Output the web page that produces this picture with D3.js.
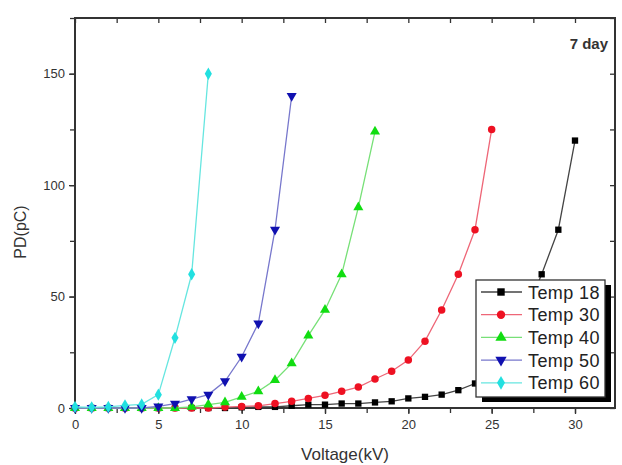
<!DOCTYPE html>
<html>
<head>
<meta charset="utf-8">
<script src="https://cdn.jsdelivr.net/npm/d3@7"></script>
<style>
	body { margin: 0; background: #fff; }
	text { font-family: "Liberation Sans", Arial, sans-serif; }
</style>
</head>
<body>
<svg id="chart"></svg>
<script>
// values, PD (pC) at each voltage step of 1 kV starting at 0
const seriesNames = ["Temp 18", "Temp 30", "Temp 40", "Temp 50", "Temp 60"];
const temp18 = [0, 0, 0, 0, 0, 0, 0, 0, 0, 0, 0.3, 0.5, 0.5, 1, 1.5, 1.5, 2, 2, 2.5, 3, 4.3, 5, 6, 8, 11, 17, 27, 42, 60, 80, 120];
const temp30 = [0, 0, 0, 0, 0, 0, 0, 0, 0, 0.4, 0.7, 1, 2, 3, 4.3, 5.7, 7.5, 9.4, 13, 16.5, 21.5, 30, 44, 60, 80, 125];
const temp40 = [0, 0, 0, 0, 0, 0, 0, 0.5, 1.5, 2.5, 5, 7.5, 12.5, 20, 32.5, 44, 60, 90, 124];
const temp50 = [0, 0, 0, 0, 0, 0.7, 2, 4, 6, 12, 23, 38, 80, 140];
const temp60 = [0.5, 0.3, 0.5, 1.2, 1.6, 6, 31.5, 60, 150];
const xTicks = [0, 5, 10, 15, 20, 25, 30];
const yTicks = [0, 50, 100, 150];

const markerColors = ["#000000", "#ee1122", "#11dd11", "#1010b0", "#22e0e0"];
const lineColors = ["#444444", "#ee6677", "#77e077", "#7777cc", "#66e6e0"];
const markerTypes = [d3.symbolSquare, d3.symbolCircle, d3.symbolTriangle, d3.symbolTriangle, d3.symbolDiamond];
const markerRotate = [0, 0, 0, 180, 0];

let allSeries = [temp18, temp30, temp40, temp50, temp60].map((vals, s) => ({
	name: seriesNames[s],
	index: s,
	points: vals.map((v, i) => ({x: i, y: v}))
}));

let width = 622, height = 465;
let margin = {left: 75, top: 18, right: 7, bottom: 57};
let plotW = width - margin.left - margin.right;
let plotH = height - margin.top - margin.bottom;

let svg = d3.select("#chart")
	.attr("width", width)
	.attr("height", height);

let xScale = d3.scaleLinear().domain([0, 32.4]).range([0, plotW]);
let yScale = d3.scaleLinear().domain([0, 175]).range([plotH, 0]);

let g = svg.append("g")
	.attr("transform", "translate(" + margin.left + "," + margin.top + ")");

// axes: bottom/left outward with labels, top/right mirrored inward
let minorX = d3.range(0, 32.5, 2.5);
let minorY = d3.range(0, 176, 25);

let axisColor = "#333";
let styleAxis = sel => {
	sel.select(".domain").remove();
	sel.selectAll("line").attr("stroke", axisColor).attr("stroke-width", 1.3);
	sel.selectAll("text").attr("fill", "#333").style("font-size", "13px");
};

g.append("g")
	.attr("transform", "translate(0," + plotH + ")")
	.call(d3.axisBottom(xScale).tickValues(minorX).tickSize(5).tickFormat(""))
	.call(styleAxis);
g.append("g")
	.attr("transform", "translate(0," + plotH + ")")
	.call(d3.axisBottom(xScale).tickValues(xTicks).tickSize(6).tickPadding(6))
	.call(styleAxis);
g.append("g")
	.call(d3.axisLeft(yScale).tickValues(minorY).tickSize(5).tickFormat(""))
	.call(styleAxis);
g.append("g")
	.call(d3.axisLeft(yScale).tickValues(yTicks).tickSize(6).tickPadding(4))
	.call(styleAxis);
g.append("g")
	.call(d3.axisBottom(xScale).tickValues(minorX).tickSize(5).tickFormat(""))
	.call(styleAxis);
g.append("g")
	.attr("transform", "translate(" + plotW + ",0)")
	.call(d3.axisLeft(yScale).tickValues(minorY).tickSize(5).tickFormat(""))
	.call(styleAxis);

g.append("rect")
	.attr("width", plotW)
	.attr("height", plotH)
	.attr("fill", "none")
	.attr("stroke", axisColor)
	.attr("stroke-width", 2);

// series
let lineGenerator = d3.line()
	.x(d => xScale(d.x))
	.y(d => yScale(d.y));

let seriesG = g.selectAll("g.series")
	.data(allSeries)
	.join("g")
	.attr("class", "series");

seriesG.append("path")
	.attr("d", d => lineGenerator(d.points))
	.attr("fill", "none")
	.attr("stroke", d => lineColors[d.index])
	.attr("stroke-width", 1.3);

seriesG.selectAll("path.marker")
	.data(d => d.points.map(p => ({p: p, s: d.index})))
	.join("path")
	.attr("class", "marker")
	.attr("d", d => d3.symbol().type(markerTypes[d.s]).size(d.s == 0 ? 40 : 44)())
	.attr("transform", d => "translate(" + xScale(d.p.x) + "," + yScale(d.p.y) + ") rotate(" + markerRotate[d.s] + ")")
	.attr("fill", d => markerColors[d.s]);

// axis titles
svg.append("text")
	.attr("x", margin.left + plotW / 2)
	.attr("y", 460)
	.attr("text-anchor", "middle")
	.attr("fill", "#333")
	.style("font-size", "17px")
	.text("Voltage(kV)");

svg.append("text")
	.attr("transform", "translate(26,232) rotate(-90)")
	.attr("text-anchor", "middle")
	.attr("fill", "#333")
	.style("font-size", "16px")
	.text("PD(pC)");

svg.append("text")
	.attr("x", margin.left + plotW - 7)
	.attr("y", 49)
	.attr("text-anchor", "end")
	.attr("fill", "#333")
	.style("font-size", "15px")
	.style("font-weight", "bold")
	.text("7 day");

// legend with drop shadow
let legendX = 476, legendY = 280, legendW = 129, legendH = 117, rowH = 22.7;
let legend = svg.append("g").attr("transform", "translate(" + legendX + "," + legendY + ")");
legend.append("rect")
	.attr("x", 6).attr("y", 5)
	.attr("width", legendW).attr("height", legendH)
	.attr("fill", "#000");
legend.append("rect")
	.attr("width", legendW).attr("height", legendH)
	.attr("fill", "#fff")
	.attr("stroke", "#333")
	.attr("stroke-width", 1.3);

let rows = legend.selectAll("g.row")
	.data(allSeries)
	.join("g")
	.attr("class", "row")
	.attr("transform", (d, i) => "translate(0," + (12 + i * rowH) + ")");
rows.append("line")
	.attr("x1", 5).attr("x2", 46)
	.attr("stroke", d => lineColors[d.index])
	.attr("stroke-width", 1.3);
rows.append("path")
	.attr("d", d => d3.symbol().type(markerTypes[d.index]).size(55)())
	.attr("transform", d => "translate(25,0) rotate(" + markerRotate[d.index] + ")")
	.attr("fill", d => markerColors[d.index]);
rows.append("text")
	.attr("x", 52)
	.attr("y", 6.5)
	.attr("fill", "#222")
	.style("font-size", "18px")
	.style("letter-spacing", "0.4px")
	.text(d => d.name);
</script>
</body>
</html>
